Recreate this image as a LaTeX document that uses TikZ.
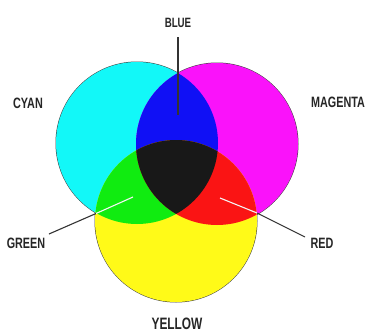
\documentclass[tikz,border=0pt]{standalone}
\usepackage{fontspec}
\setmainfont{Liberation Sans}
\usepackage{graphicx}
\definecolor{cyanC}{RGB}{18,248,248}
\definecolor{magentaC}{RGB}{250,18,250}
\definecolor{yellowC}{RGB}{255,250,24}
\definecolor{blueC}{RGB}{16,16,245}
\definecolor{greenC}{RGB}{16,236,16}
\definecolor{redC}{RGB}{250,20,20}
\definecolor{blackC}{RGB}{24,24,24}
\newcommand{\lbl}[2]{\scalebox{0.72}[1]{\fontsize{#1}{#1}\selectfont\bfseries #2}}
\tikzset{
  lab/.style={inner sep=0pt, text=black!85},
  leader/.style={line width=1.1pt, draw=black!80},
  hilite/.style={line width=1.1pt, draw=white!92!gray},
  rim/.style={draw=black!75, line width=1pt},
}
\begin{document}
\begin{tikzpicture}[x=1pt,y=-1pt]
\useasboundingbox[fill=white] (0,0) rectangle (370,332);
\def\R{81pt}
\coordinate (C) at (137,143);
\coordinate (M) at (217,144);
\coordinate (Y) at (176,221);
% outer rims
\foreach \c in {C,M,Y} \draw[rim] (\c) circle (\R);
% primary fills
\fill[cyanC] (C) circle (\R);
\fill[magentaC] (M) circle (\R);
\fill[yellowC] (Y) circle (\R);
% overlaps
\begin{scope}
  \clip (C) circle (\R);
  \fill[blueC] (M) circle (\R);
  \fill[greenC] (Y) circle (\R);
\end{scope}
\begin{scope}
  \clip (M) circle (\R);
  \fill[redC] (Y) circle (\R);
  \clip (C) circle (\R);
  \fill[blackC] (Y) circle (\R);
\end{scope}
% labels
\node[lab] (blue) at (178,23) {\lbl{13.5}{BLUE}};
\node[lab] (cyan) at (28,103) {\lbl{15}{CYAN}};
\node[lab, anchor=west] (magenta) at (311,102) {\lbl{15}{MAGENTA}};
\node[lab] (green) at (26,243) {\lbl{15}{GREEN}};
\node[lab] (red) at (322,243) {\lbl{15}{RED}};
\node[lab] (yellow) at (177,323.5) {\lbl{16.5}{YELLOW}};
% leader lines
\coordinate (bluetop) at (178,37);
\coordinate (bluetip) at (178,115);
\draw[leader] (bluetop) -- (bluetip);
\coordinate (gout) at (49,234);
\coordinate (gedge) at (96,213.5);
\coordinate (gin) at (133,197);
\draw[leader] (gout) -- (gedge);
\draw[hilite] (gedge) -- (gin);
\coordinate (rout) at (305,237);
\coordinate (redge) at (257,213);
\coordinate (rin) at (220,198);
\draw[leader] (rout) -- (redge);
\draw[hilite] (redge) -- (rin);
\end{tikzpicture}
\end{document}
